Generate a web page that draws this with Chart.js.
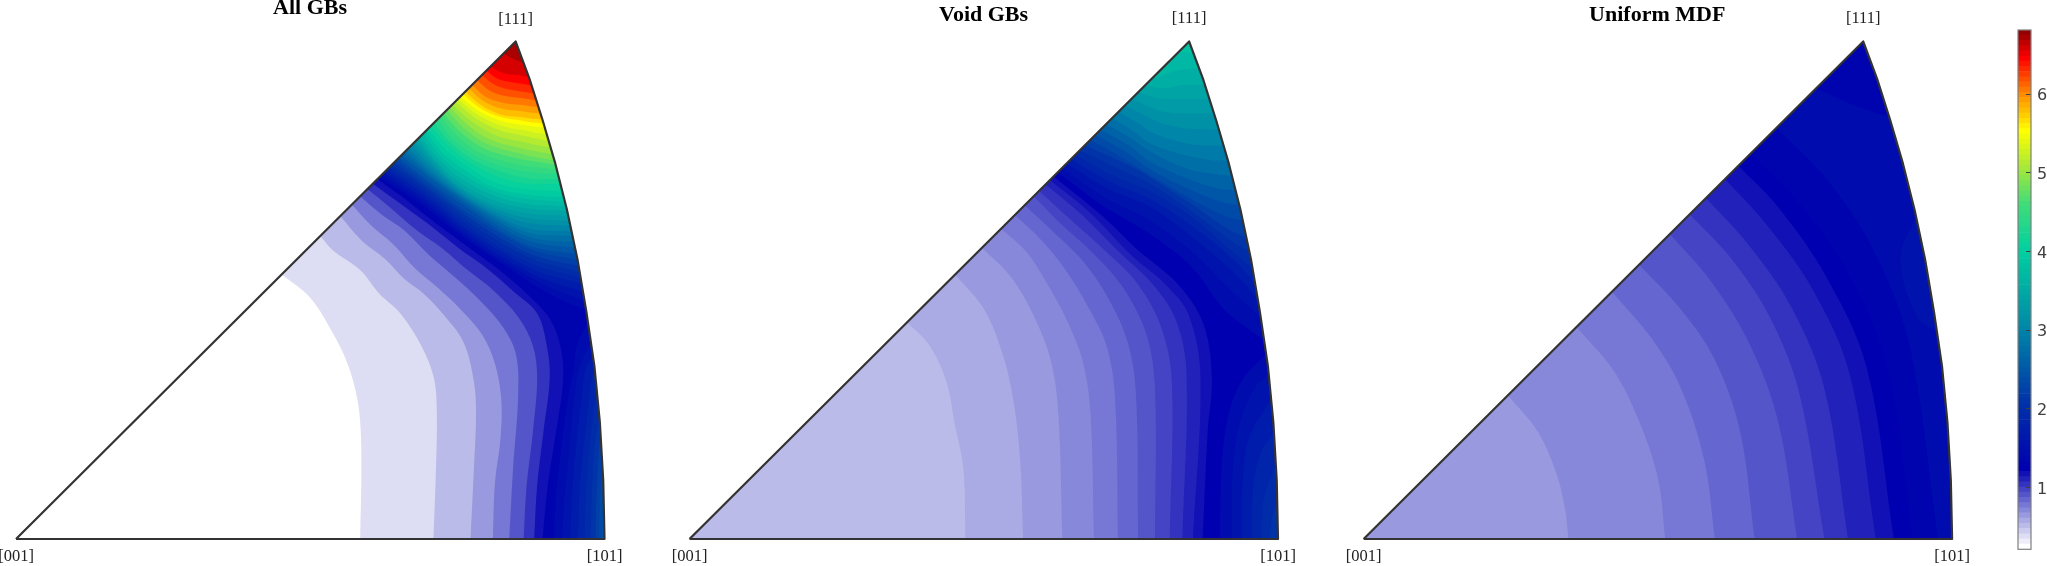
<!DOCTYPE html>
<html><head><meta charset="utf-8">
<style>html,body{margin:0;padding:0;background:#fff;overflow:hidden}canvas{position:absolute;top:0}</style>
<script src="https://cdn.jsdelivr.net/npm/chart.js@4"></script></head>
<body>
<canvas id="c0" width="670" height="566" style="left:0"></canvas>
<canvas id="c1" width="670" height="566" style="left:670px"></canvas>
<canvas id="c2" width="660" height="566" style="left:1340px"></canvas>
<canvas id="cb" width="47" height="566" style="left:2000px"></canvas>
<script>
const panelTitles=["All GBs","Void GBs","Uniform MDF"];
const cornerLabels=["[001]","[101]","[111]"];
const colorbarTicks=[1,2,3,4,5,6];
const colorbarRange=[0.21,6.81];
const colorbarLevels=100;
const cmapIndex=[0,15,28,43,57,66,73,80,87,94,100];
const cmapColor=[[255,255,255],[0,0,176],[0,52,168],[0,140,168],[0,208,160],[64,220,120],[168,232,56],[255,255,0],[255,140,0],[255,0,0],[128,0,0]];
// fundamental-sector edge, in reading units measured from the [001] corner
const arcX=[1397,1394,1386,1373,1354,1333,1308,1280,1250,1219,1186];
const arcY=[0,162,323,480,631,776,914,1044,1164,1278,1382];

// contour lines: [colour level, closing rule, x,y,x,y...]
const allGbsContours=[
[2,"low",672,762,735,825,790,925,825,1010,845,1090,855,1170,858,1300,855,1497],
[4,"low",765,655,790,695,855,750,900,815,950,870,1000,960,1030,1050,1037,1150,1035,1300,1029,1497],
[6,"low",812,600,860,670,915,720,960,775,1005,815,1050,870,1100,950,1125,1060,1130,1150,1125,1300,1117,1497],
[8,"low",838,568,880,625,935,680,985,745,1040,800,1090,855,1145,930,1175,1010,1190,1110,1188,1220,1175,1340,1170,1497],
[10,"low",858,545,905,595,960,640,1020,710,1080,770,1140,835,1195,910,1225,985,1230,1100,1218,1300,1209,1497],
[12,"low",875,525,930,580,990,640,1050,690,1110,750,1170,805,1230,880,1265,960,1275,1050,1265,1200,1250,1350,1243,1497],
[14,"low",888,510,950,565,1020,625,1090,690,1150,740,1220,810,1275,870,1298,960,1305,1050,1290,1200,1275,1350,1268,1497],
[16,"low",895,497,970,560,1040,625,1110,685,1180,745,1250,815,1305,885,1330,960,1337,1050,1320,1200,1300,1350,1288,1497],
[18,"corner",1315,1497,1319,1394,1331,1256,1347,1117,1362,1025,1369,960,1392,896],
[20,"corner",1335,1497,1339,1394,1351,1256,1362,1117,1374,1025,1400,951],
[22,"corner",1354,1497,1357,1394,1366,1256,1380,1117,1390,1025,1408,988],
[24,"corner",1372,1497,1374,1394,1384,1256,1398,1117,1404,1053,1414,1025],
[26,"corner",1388,1497,1390,1394,1398,1256,1410,1136,1419,1090],
[28,"corner",1402,1497,1404,1394,1410,1256,1424,1154],
[30,"corner",1414,1497,1415,1394,1420,1283,1428,1200],
[32,"corner",1423,1497,1424,1394,1431,1293],
[34,"corner",1430,1497,1433,1366],
[18,"apex",900,492,995,562,1100,658,1190,730,1310,820,1390,860],
[20,"apex",906,485,1000,555,1100,650,1190,722,1300,795,1388,835],
[22,"apex",912,478,1005,550,1100,640,1190,712,1290,775,1385,810],
[24,"apex",918,471,1012,545,1100,630,1190,700,1280,755,1382,787],
[26,"apex",924,465,1015,537,1100,618,1190,690,1275,738,1379,771],
[28,"apex",930,458,1018,530,1102,608,1190,675,1270,722,1377,755],
[30,"apex",936,451,1022,525,1105,598,1190,662,1270,710,1375,738],
[32,"apex",942,444,1026,518,1108,590,1187,648,1266,695,1372,722],
[34,"apex",948,438,1029,512,1108,576,1187,640,1266,686,1368,705],
[36,"apex",954,431,1032,503,1106,566,1185,628,1264,672,1366,688],
[38,"apex",960,424,1030,495,1103,556,1183,616,1262,660,1362,672],
[40,"apex",966,418,1030,487,1100,548,1181,606,1260,648,1358,656],
[42,"apex",972,411,1030,478,1096,540,1179,598,1258,636,1356,641],
[44,"apex",977,404,1030,467,1092,530,1177,588,1256,620,1353,627],
[46,"apex",982,397,1030,458,1088,520,1175,578,1254,606,1350,613],
[48,"apex",988,391,1030,448,1085,512,1172,568,1250,592,1347,599],
[50,"apex",993,384,1031,442,1088,504,1172,556,1250,578,1344,586],
[52,"apex",998,378,1036,435,1092,494,1171,542,1248,566,1341,574],
[54,"apex",1004,370,1042,430,1098,484,1171,530,1247,552,1339,561],
[56,"apex",1009,364,1050,424,1105,474,1171,520,1245,540,1336,548],
[58,"apex",1014,358,1057,414,1113,464,1178,508,1245,525,1333,533],
[60,"apex",1022,350,1064,403,1120,454,1190,494,1250,510,1330,510],
[62,"apex",1030,341,1070,396,1128,446,1205,482,1262,496,1327,497],
[64,"apex",1038,332,1077,388,1137,437,1220,470,1275,480,1325,483],
[66,"apex",1047,323,1085,377,1142,425,1226,456,1278,465,1322,471],
[68,"apex",1056,314,1092,366,1149,412,1232,441,1280,450,1320,458],
[70,"apex",1065,305,1101,355,1156,399,1236,427,1280,438,1316,445],
[72,"apex",1073,297,1110,346,1165,388,1240,412,1280,421,1313,428],
[74,"apex",1081,290,1120,337,1178,376,1245,395,1280,404,1310,410],
[76,"apex",1089,282,1129,328,1188,362,1250,378,1280,386,1305,392],
[78,"apex",1095,275,1131,316,1188,348,1248,362,1275,369,1300,372],
[80,"apex",1101,268,1133,305,1188,335,1244,347,1270,352,1295,355],
[82,"apex",1107,261,1137,298,1188,325,1240,335,1265,340,1290,343],
[84,"apex",1113,254,1141,291,1188,318,1236,325,1260,329,1284,332],
[86,"apex",1121,245,1147,280,1192,302,1236,308,1256,312,1278,315],
[88,"apex",1129,235,1152,268,1196,286,1236,291,1256,294,1273,297],
[90,"apex",1138,222,1160,250,1196,266,1236,272,1252,275,1268,279],
[92,"apex",1147,208,1168,231,1196,245,1236,254,1263,260],
[94,"apex",1155,196,1180,218,1196,224,1236,232,1258,237],
[96,"apex",1164,185,1196,203,1228,208,1253,214],
[98,"apex",1196,148,1220,164,1240,174]
];
const voidGbsContours=[
[5,"low",590,895,640,960,680,1060,700,1180,720,1300,725,1497],
[6,"low",703,762,770,860,815,990,840,1120,855,1280,862,1497],
[7,"low",768,688,830,765,880,860,925,990,945,1140,955,1497],
[8,"low",812,635,870,700,925,800,970,900,1005,1010,1022,1150,1030,1497],
[9,"low",845,597,900,660,960,745,1020,860,1060,960,1080,1100,1087,1497],
[10,"low",868,570,930,640,1000,720,1060,820,1110,950,1130,1100,1135,1497],
[11,"low",888,545,950,620,1030,705,1100,800,1155,930,1175,1080,1175,1497],
[12,"low",903,530,975,610,1060,700,1135,790,1190,910,1215,1060,1210,1497],
[13,"low",918,512,1000,595,1090,700,1170,790,1225,890,1250,1040,1240,1497],
[14,"low",928,500,1020,590,1120,710,1200,790,1255,875,1283,1050,1265,1497],
[15,"low",938,490,1050,600,1130,690,1230,790,1290,900,1310,1050,1300,1200,1288,1497],
[18,"corner",1329,1497,1333,1300,1350,1150,1385,1050,1442,985],
[20,"corner",1357,1497,1360,1300,1375,1180,1410,1080,1448,1040],
[22,"corner",1381,1497,1384,1320,1400,1210,1453,1110],
[24,"corner",1404,1497,1408,1350,1425,1260,1458,1200],
[26,"corner",1428,1497,1432,1390,1463,1290],
[28,"corner",1448,1497,1452,1440,1466,1400],
[18,"apex",951,478,1050,570,1163,650,1262,741,1340,860,1440,945],
[20,"apex",962,466,1055,548,1163,612,1260,695,1350,800,1432,880],
[22,"apex",973,454,1060,522,1163,574,1260,655,1360,755,1425,830],
[24,"apex",984,442,1070,506,1163,553,1260,625,1360,720,1416,787],
[26,"apex",994,430,1080,490,1163,530,1260,600,1350,690,1407,745],
[28,"apex",1007,418,1090,470,1163,510,1260,585,1345,660,1398,700],
[30,"apex",1020,403,1100,452,1163,492,1260,565,1340,630,1390,660],
[32,"apex",1028,388,1100,440,1163,486,1260,552,1340,600,1382,613],
[34,"apex",1040,374,1110,425,1163,470,1255,525,1330,560,1370,570],
[36,"apex",1054,360,1115,405,1163,448,1250,495,1320,522,1361,528],
[38,"apex",1065,345,1120,385,1163,420,1250,468,1315,483,1350,488],
[40,"apex",1081,328,1125,365,1163,398,1250,432,1310,445,1339,447],
[42,"apex",1096,310,1135,342,1175,372,1250,398,1295,404,1328,405],
[44,"apex",1112,292,1150,320,1190,342,1250,357,1318,360],
[46,"apex",1127,274,1165,298,1205,312,1250,315,1306,315],
[48,"apex",1143,255,1180,272,1225,275,1297,275],
[50,"apex",1158,238,1200,245,1240,236,1280,235],
[52,"apex",1175,220,1230,195,1272,190],
[54,"apex",1215,160,1240,145,1262,150]
];
const uniformContours=[
[7,"low",400,1098,470,1200,515,1320,535,1420,542,1497],
[8,"low",562,908,650,1030,710,1170,755,1330,772,1497],
[9,"low",647,810,740,940,810,1080,865,1280,890,1497],
[10,"low",712,735,810,860,890,1000,950,1200,984,1497],
[11,"low",785,650,880,780,970,950,1040,1170,1085,1497],
[12,"low",832,595,930,720,1020,880,1090,1090,1150,1497],
[13,"low",870,550,970,680,1070,850,1150,1080,1206,1497],
[14,"low",915,497,1010,620,1120,800,1210,1040,1272,1497],
[15,"low",947,460,1040,575,1155,770,1250,1020,1315,1497],
[16,"low",975,425,1080,550,1200,745,1300,1020,1360,1497],
[18,"low",1040,355,1150,490,1260,680,1350,950,1420,1497],
[20,"lens",1360,600,1330,720,1370,880,1410,920],
[16,"apex",1145,245,1215,290,1290,325]
];
const allContours=[allGbsContours,voidGbsContours,uniformContours];
const baseLevels=[0,4,6];
const panelX0=[38,70,56];
const plotLeft=[16,689.5-670,1363.6-1340];
const plotWidth=588.5;
const plotTop=41.5, plotBottom=539;
const readBaseY=1497, readApexY=115;
const titleRead=[[736,22],[768,42],[753,42]];
const labelReadY=[55,52,52];
const labelBaseRead=1546;

function levelColor(i){
  let k=0; while(k<cmapIndex.length-2&&i>cmapIndex[k+1])k++;
  const t=Math.min(1,(i-cmapIndex[k])/(cmapIndex[k+1]-cmapIndex[k]));
  const c=cmapColor[k].map((v,j)=>Math.round(v+(cmapColor[k+1][j]-v)*t));
  return `rgb(${c[0]},${c[1]},${c[2]})`;
}
function arcPoints(x0){return arcX.map((v,i)=>({x:x0+v,y:readBaseY-arcY[i]}));}
function arcXAt(arc,y){
  for(let i=0;i<arc.length-1;i++){
    if(y<=arc[i].y&&y>=arc[i+1].y){const t=(arc[i].y-y)/(arc[i].y-arc[i+1].y);return arc[i].x+(arc[i+1].x-arc[i].x)*t;}
  }
  return arc[arc.length-1].x;
}
function buildRegion(row,x0){
  const arc=arcPoints(x0);const apex=arc[arc.length-1];
  const rule=row[1];const p=[];
  for(let i=2;i<row.length;i+=2)p.push({x:row[i],y:row[i+1]});
  const first=p[0],last=p[p.length-1];
  if(rule==="lens")first.x=arcXAt(arc,first.y);
  else if(rule!=="corner")first.x=x0+(readBaseY-first.y)*(apex.x-x0)/(readBaseY-readApexY);
  if(last.y<readBaseY)last.x=arcXAt(arc,last.y);
  // a repeated end vertex keeps the corner sharp when the line is drawn with tension
  const line=[{...first}].concat(p,[{...last}]);
  if(rule==="low")return line.concat(arc);
  if(rule==="apex")return line.concat(arc.filter(a=>a.y<last.y));
  if(rule==="corner")return line.concat(arc.filter(a=>a.y>last.y).reverse());
  return line.concat(arc.filter(a=>a.y>first.y&&a.y<last.y));
}
function triangle(x0){return [{x:x0,y:readBaseY}].concat(arcPoints(x0));}

const textPlugin={id:"panelText",afterDraw(ch){
  const o=ch.options.plugins.panelText,ctx=ch.ctx,sx=ch.scales.x,sy=ch.scales.y;
  ctx.save();ctx.textAlign="center";ctx.textBaseline="middle";
  ctx.fillStyle="#000";ctx.font='bold 22px "Liberation Serif"';
  ctx.fillText(o.title,sx.getPixelForValue(o.titleAt[0]),sy.getPixelForValue(o.titleAt[1]));
  ctx.fillStyle="#222";ctx.font='16.5px "Liberation Serif"';
  ctx.fillText(cornerLabels[0],sx.getPixelForValue(o.x0),sy.getPixelForValue(labelBaseRead));
  ctx.fillText(cornerLabels[1],sx.getPixelForValue(o.x0+arcX[0]),sy.getPixelForValue(labelBaseRead));
  ctx.fillText(cornerLabels[2],sx.getPixelForValue(o.x0+arcX[arcX.length-1]),sy.getPixelForValue(o.labelY));
  ctx.restore();
}};
panelTitles.forEach((title,n)=>{
  const x0=panelX0[n];
  const rows=allContours[n];
  const total=rows.length+2;
  const fillSet=(points,level,pos,tension)=>({data:points,showLine:true,fill:"shape",backgroundColor:levelColor(level),borderWidth:0,pointRadius:0,tension,order:total-pos});
  const ds=[fillSet(triangle(x0),baseLevels[n],0,0)];
  rows.forEach((r,k)=>ds.push(fillSet(buildRegion(r,x0),r[0],k+1,0.35)));
  ds.push({data:triangle(x0).concat([{x:x0,y:readBaseY}]),showLine:true,fill:false,borderColor:"#333333",borderWidth:2.2,pointRadius:0,clip:false,borderJoinStyle:"round",order:0});
  const cv=document.getElementById("c"+n);
  new Chart(cv,{type:"scatter",data:{datasets:ds},plugins:[textPlugin],options:{
    responsive:false,animation:false,events:[],
    layout:{padding:{left:plotLeft[n],right:cv.width-plotLeft[n]-plotWidth,top:plotTop,bottom:566-plotBottom}},
    scales:{x:{type:"linear",display:false,min:x0,max:x0+arcX[0]},y:{type:"linear",display:false,reverse:true,min:readApexY,max:readBaseY}},
    plugins:{legend:{display:false},tooltip:{enabled:false},title:{display:false},
      panelText:{title,titleAt:titleRead[n],x0,labelY:labelReadY[n]}}
  }});
});
// colour bar
const barStep=(colorbarRange[1]-colorbarRange[0])/colorbarLevels;
const barSets=[];
for(let i=0;i<colorbarLevels;i++)barSets.push({data:[[colorbarRange[0]+i*barStep,colorbarRange[0]+(i+1)*barStep]],backgroundColor:levelColor(i),borderWidth:0,barPercentage:1,categoryPercentage:1});
const barFrame={id:"barFrame",afterDatasetsDraw(ch){
  const a=ch.chartArea,ctx=ch.ctx,sy=ch.scales.y;ctx.save();
  ctx.strokeStyle="#404040";ctx.lineWidth=1;
  colorbarTicks.forEach(v=>{const y=Math.round(sy.getPixelForValue(v))+.5;ctx.beginPath();ctx.moveTo(a.right-5,y);ctx.lineTo(a.right,y);ctx.stroke();});
  ctx.strokeStyle="#7f7f7f";ctx.lineWidth=1.2;ctx.strokeRect(a.left,a.top,a.right-a.left,a.bottom-a.top);
  ctx.restore();
}};
new Chart(document.getElementById("cb"),{type:"bar",data:{labels:[""],datasets:barSets},plugins:[barFrame],options:{
  responsive:false,animation:false,events:[],
  layout:{padding:{left:18,right:0,top:30,bottom:16.7}},
  scales:{x:{display:false,stacked:true},
    y:{position:"right",min:colorbarRange[0],max:colorbarRange[1],
      afterFit(s){s.width=16;},
      afterBuildTicks(s){s.ticks=colorbarTicks.map(v=>({value:v}));},
      grid:{display:false,drawTicks:false},border:{display:false},
      ticks:{padding:6,labelOffset:2.5,color:"#404040",font:{family:'"DejaVu Sans"',size:16},callback:v=>String(v)}}},
  plugins:{legend:{display:false},tooltip:{enabled:false}}
}});
</script></body></html>
